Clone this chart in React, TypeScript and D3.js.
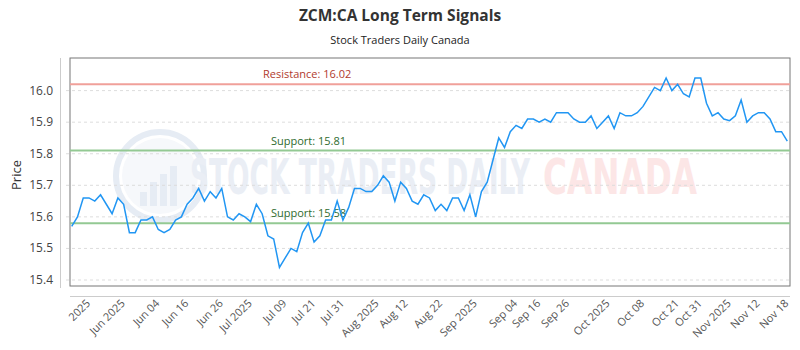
import React, { useEffect, useRef } from 'react';
import * as d3 from 'd3';

const prices = [
  15.57, 15.6, 15.66, 15.66, 15.65, 15.67, 15.64, 15.61, 15.66, 15.64,
  15.55, 15.55, 15.59, 15.59, 15.6, 15.56, 15.55, 15.56, 15.59, 15.6,
  15.64, 15.66, 15.69, 15.65, 15.68, 15.66, 15.69, 15.6, 15.59, 15.61,
  15.6, 15.585, 15.64, 15.61, 15.54, 15.53, 15.44, 15.47, 15.5, 15.49,
  15.55, 15.58, 15.52, 15.54, 15.59, 15.59, 15.65, 15.59, 15.63, 15.69,
  15.69, 15.68, 15.68, 15.7, 15.73, 15.71, 15.65, 15.71, 15.69, 15.65,
  15.64, 15.67, 15.66, 15.62, 15.64, 15.62, 15.66, 15.66, 15.62, 15.67,
  15.6, 15.68, 15.71, 15.78, 15.85, 15.82, 15.87, 15.89, 15.88, 15.91,
  15.91, 15.9, 15.91, 15.9, 15.93, 15.93, 15.93, 15.91, 15.9, 15.9,
  15.92, 15.88, 15.9, 15.92, 15.88, 15.93, 15.92, 15.92, 15.93, 15.95,
  15.98, 16.01, 16.0, 16.04, 16.0, 16.02, 15.99, 15.98, 16.04, 16.04,
  15.96, 15.92, 15.93, 15.91, 15.905, 15.92, 15.97, 15.9, 15.92, 15.93,
  15.93, 15.91, 15.87, 15.87, 15.84
];

// x tick labels and the data index they sit at
const tickLabels = [
  '2025', 'Jun 2025', 'Jun 04', 'Jun 16', 'Jun 26', 'Jul 2025', 'Jul 09', 'Jul 21',
  'Jul 31', 'Aug 2025', 'Aug 12', 'Aug 22', 'Sep 2025', 'Sep 04', 'Sep 16', 'Sep 26',
  'Oct 2025', 'Oct 08', 'Oct 21', 'Oct 31', 'Nov 2025', 'Nov 12', 'Nov 18'
];
const tickIndex = [3, 9, 15, 20, 26, 31, 37, 42, 47, 53, 58, 64, 70, 77, 81, 86, 93, 99, 105, 109, 114, 119, 124];

const yTicks = [15.4, 15.5, 15.6, 15.7, 15.8, 15.9, 16.0];

const levelNames = ['Resistance', 'Support', 'Support'];
const levelValues = [16.02, 15.81, 15.58];

const FONT = '"Open Sans", "Noto Sans", sans-serif';

export default function App() {
  const ref = useRef<SVGSVGElement>(null);

  useEffect(() => {
    document.body.style.margin = '0';
    const svg = d3.select(ref.current);
    svg.selectAll('*').remove();

    const width = 800;
    const height = 350;
    const box = { left: 70, right: 790, top: 60, bottom: 286 };

    const x = d3.scaleLinear().domain([0, prices.length - 1]).range([71.7, 787.3]);
    const y = d3.scaleLinear().domain([15.381, 16.097]).range([box.bottom, box.top]);

    svg.attr('width', width).attr('height', height).style('font-family', FONT);

    // titles
    svg.append('text')
      .attr('x', 400).attr('y', 21)
      .attr('text-anchor', 'middle')
      .style('font-size', '15.5px').style('font-weight', 'bold').style('fill', '#333')
      .text('ZCM:CA Long Term Signals');
    svg.append('text')
      .attr('x', 400).attr('y', 44)
      .attr('text-anchor', 'middle')
      .style('font-size', '11px').style('fill', '#222')
      .text('Stock Traders Daily Canada');

    // watermark
    const wm = svg.append('g');
    wm.append('circle').attr('cx', 160).attr('cy', 176).attr('r', 44)
      .style('fill', 'none').style('stroke', '#e6ecf4').style('stroke-width', 6);
    wm.append('circle').attr('cx', 160).attr('cy', 176).attr('r', 38)
      .style('fill', '#f6f8fb');
    [[140, 192], [150, 182], [160, 174], [170, 166]].forEach(([bx, by]) => {
      wm.append('rect').attr('x', bx).attr('y', by).attr('width', 7).attr('height', 206 - by)
        .style('fill', '#e6ecf4');
    });
    wm.append('text').attr('x', 190).attr('y', 194)
      .attr('textLength', 340).attr('lengthAdjust', 'spacingAndGlyphs')
      .style('font-size', '50px').style('font-weight', 'bold').style('fill', '#eaeef5')
      .style('font-family', '"DejaVu Sans Condensed", "Roboto", sans-serif')
      .text('STOCK TRADERS DAILY');
    wm.append('text').attr('x', 543).attr('y', 194)
      .attr('textLength', 154).attr('lengthAdjust', 'spacingAndGlyphs')
      .style('font-size', '50px').style('font-weight', 'bold').style('fill', '#fce6e6')
      .style('font-family', '"DejaVu Sans Condensed", "Roboto", sans-serif')
      .text('CANADA');

    // grid
    svg.append('g').selectAll('line').data(yTicks).enter().append('line')
      .attr('x1', 66).attr('x2', box.right)
      .attr('y1', d => y(d)).attr('y2', d => y(d))
      .style('stroke', '#ddd').style('stroke-dasharray', '3,3').style('stroke-width', 1);

    // plot box
    svg.append('rect')
      .attr('x', box.left).attr('y', box.top - 2)
      .attr('width', box.right - box.left).attr('height', box.bottom - box.top + 2)
      .style('fill', 'none').style('stroke', '#777').style('stroke-width', 1);

    // offset axis lines
    svg.append('line').attr('x1', 60.5).attr('x2', 60.5).attr('y1', box.top - 2).attr('y2', 288)
      .style('stroke', '#ccc');
    svg.append('line').attr('x1', box.left).attr('x2', box.right).attr('y1', 296.5).attr('y2', 296.5)
      .style('stroke', '#ccc');

    // y tick labels
    svg.append('g').selectAll('text').data(yTicks).enter().append('text')
      .attr('x', 53).attr('y', d => y(d) + 4)
      .attr('text-anchor', 'end')
      .style('font-size', '12px').style('fill', '#444')
      .text(d => d.toFixed(1));

    svg.append('text')
      .attr('transform', 'translate(21,175) rotate(-90)')
      .attr('text-anchor', 'middle')
      .style('font-size', '13px').style('fill', '#333')
      .text('Price');

    // x tick labels
    svg.append('g').selectAll('text').data(tickLabels).enter().append('text')
      .attr('transform', (d, i) => `translate(${x(tickIndex[i]) + 2},304) rotate(-45)`)
      .attr('text-anchor', 'end')
      .style('font-size', '11px').style('fill', '#555')
      .text(d => d);

    // signal levels
    const levelColor = ['#f0a09a', '#93c993', '#93c993'];
    const labelColor = ['#b03a2e', '#2e6b2e', '#2e6b2e'];
    const labelX = [263, 271, 271];
    levelValues.forEach((v, i) => {
      svg.append('line')
        .attr('x1', box.left).attr('x2', box.right)
        .attr('y1', y(v)).attr('y2', y(v))
        .style('stroke', levelColor[i]).style('stroke-width', 2);
      svg.append('text')
        .attr('x', labelX[i]).attr('y', y(v) - 6)
        .style('font-size', '11px').style('fill', labelColor[i])
        .text(`${levelNames[i]}: ${v.toFixed(2)}`);
    });

    // price line
    const line = d3.line<number>()
      .x((d, i) => x(i))
      .y(d => y(d));
    svg.append('path')
      .datum(prices)
      .attr('d', line)
      .style('fill', 'none')
      .style('stroke', '#2196f3')
      .style('stroke-width', 1.5);
  }, []);

  return (
    <div>
      <svg ref={ref}></svg>
    </div>
  );
}
